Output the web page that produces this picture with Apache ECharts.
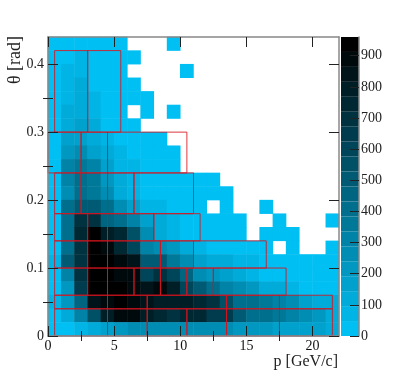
<!DOCTYPE html>
<html>
<head>
<meta charset="utf-8">
<style>html,body{margin:0;padding:0;background:#fff}#container{width:399px;height:377px}</style>
<script src="https://cdn.jsdelivr.net/npm/echarts@6/dist/echarts.min.js"></script>
</head>
<body>
<div id="container"></div>
<script>
var n = null;
var pBins = 22, thetaBins = 22;
var pMax = 22, thetaMax = 0.44, zMax = 960;
var levels = 20;
var pMajor = [0, 5, 10, 15, 20];
var pMinor = [2.5, 7.5, 12.5, 17.5];
var thetaMajor = [0, 0.1, 0.2, 0.3, 0.4];
var thetaMinor = [0.05, 0.15, 0.25, 0.35];
var zTicks = [0, 100, 200, 300, 400, 500, 600, 700, 800, 900];

// counts, top row (theta 0.42-0.44) first, null = empty bin
var counts = [
  [10,15,20,15,10,10,n,n,n,10,n,n,n,n,n,n,n,n,n,n,n,n],
  [10,30,50,20,10,10,10,n,n,n,n,n,n,n,n,n,n,n,n,n,n,n],
  [15,55,60,15,10,10,n,n,n,n,10,n,n,n,n,n,n,n,n,n,n,n],
  [15,60,100,30,10,10,10,n,n,n,n,n,n,n,n,n,n,n,n,n,n,n],
  [20,70,110,60,10,10,10,10,n,n,n,n,n,n,n,n,n,n,n,n,n,n],
  [20,100,130,60,15,10,n,10,n,10,n,n,n,n,n,n,n,n,n,n,n,n],
  [20,110,150,100,20,10,10,n,n,n,n,n,n,n,n,n,n,n,n,n,n,n],
  [15,150,170,100,60,20,15,10,10,n,n,n,n,n,n,n,n,n,n,n,n,n],
  [20,210,250,170,110,50,20,15,10,10,n,n,n,n,n,n,n,n,n,n,n,n],
  [20,290,350,300,180,70,55,20,10,10,n,n,n,n,n,n,n,n,n,n,n,n],
  [20,300,420,350,200,100,50,30,20,10,10,10,10,n,n,n,n,n,n,n,n,n],
  [25,280,420,380,260,140,90,30,20,20,10,10,10,10,n,n,n,n,n,n,n,n],
  [30,420,520,500,430,270,180,60,50,20,10,10,n,10,n,n,10,n,n,n,n,n],
  [25,420,680,700,450,400,300,180,120,60,30,20,10,10,10,n,n,10,n,n,n,10],
  [30,400,750,950,780,750,530,280,120,80,30,20,10,10,10,n,10,10,10,n,n,n],
  [30,420,700,950,900,740,620,300,240,220,100,70,30,20,15,10,10,n,10,n,n,10],
  [50,480,680,950,950,880,820,480,520,360,270,170,140,110,70,50,40,20,10,10,10,10],
  [40,320,680,930,950,900,880,620,700,620,450,250,200,180,120,60,40,30,20,10,10,10],
  [30,230,650,950,950,950,900,850,900,800,620,480,430,320,250,220,130,100,70,40,30,30],
  [60,200,450,850,880,950,880,850,800,800,800,760,680,550,420,400,380,300,250,180,130,120],
  [30,130,300,560,800,880,900,800,720,700,750,740,650,640,500,420,410,380,330,250,230,130],
  [15,25,50,100,170,230,260,270,270,270,270,270,270,270,230,200,200,190,170,170,170,100]
];

// red outlines: [theta low, theta high, p edges]
var boxLayers = [
  [0.30, 0.42, [0.5, 3, 5.5]],
  [0.24, 0.30, [0, 2.5, 4.5, 10.5]],
  [0.18, 0.24, [0.5, 2.5, 4.5, 6.5, 11]],
  [0.14, 0.18, [0.5, 3, 4.5, 8, 11.5]],
  [0.10, 0.14, [0.5, 3, 4.5, 8.5, 11, 16.5]],
  [0.06, 0.10, [0.5, 3, 4.5, 6.5, 8.5, 10.5, 12.5, 18]],
  [0.04, 0.06, [0.5, 4.5, 7.5, 13.5, 17.5, 21.5]],
  [0.00, 0.04, [0.5, 4.5, 7.5, 10.5, 13.5, 17.5, 21.5]]
];

var base = [0, 191, 243];
var step = zMax / levels;
function levelColor(k) {
  var f = 1 - k / (levels - 1);
  return 'rgb(' + base.map(function (c) { return Math.round(c * f); }).join(',') + ')';
}

var pieces = [], barData = [];
for (var k = 0; k < levels; k++) {
  pieces.push({ gte: k * step, lt: (k + 1) * step, color: levelColor(k) });
  barData.push([k * step, (k + 1) * step, k]);
}

var pCats = [], thetaCats = [];
for (var i = 0; i < pBins; i++) pCats.push(i);
for (var j = 0; j < thetaBins; j++) thetaCats.push(j);

var cells = [];
counts.forEach(function (row, r) {
  row.forEach(function (v, c) {
    if (v !== null) cells.push([c, thetaBins - 1 - r, v]);
  });
});

var boxes = [];
boxLayers.forEach(function (l) {
  for (var e = 0; e < l[2].length - 1; e++) boxes.push([l[2][e], l[2][e + 1], l[0], l[1]]);
});

var serif = '"Liberation Serif", "Times New Roman", serif';
var frame = { show: true, onZero: false, lineStyle: { color: '#888888', width: 1.5 } };
var plain = { show: false };
var gridBox = { left: 48, top: 37, width: 291, height: 299 };

function xAxis(gridIndex, pos, ticks, len, labels) {
  return {
    type: 'value', gridIndex: gridIndex, position: pos, min: 0, max: pMax, z: 5,
    axisLine: gridIndex === 1 ? frame : plain, splitLine: plain,
    axisTick: { show: true, inside: true, length: len, customValues: ticks, lineStyle: { color: '#222' } },
    axisLabel: labels ? { show: true, customValues: ticks, margin: 3, fontFamily: serif, fontSize: 14, color: '#111' } : plain
  };
}
function yAxis(gridIndex, pos, ticks, len, labels) {
  return {
    type: 'value', gridIndex: gridIndex, position: pos, min: 0, max: thetaMax, z: 5,
    axisLine: gridIndex === 1 ? frame : plain, splitLine: plain,
    axisTick: { show: true, inside: true, length: len, customValues: ticks, lineStyle: { color: '#222' } },
    axisLabel: labels ? {
      show: true, customValues: ticks, margin: 4, fontFamily: serif, fontSize: 14, color: '#222',
      formatter: function (v) { return v === 0 ? '0' : v.toFixed(1); }
    } : plain
  };
}

var option = {
  animation: false,
  backgroundColor: '#fff',
  grid: [
    Object.assign({}, gridBox),
    Object.assign({}, gridBox),
    Object.assign({}, gridBox),
    { left: 341, top: 37, width: 18, height: 299 }
  ],
  xAxis: [
    { type: 'category', gridIndex: 0, data: pCats, show: false },
    xAxis(1, 'bottom', pMajor, 10, true),
    xAxis(1, 'top', pMajor, 10, false),
    xAxis(2, 'bottom', pMinor, 5, false),
    xAxis(2, 'top', pMinor, 5, false),
    { type: 'value', gridIndex: 3, min: 0, max: 1, show: false }
  ],
  yAxis: [
    { type: 'category', gridIndex: 0, data: thetaCats, show: false },
    yAxis(1, 'left', thetaMajor, 10, true),
    yAxis(1, 'right', thetaMajor, 10, false),
    yAxis(2, 'left', thetaMinor, 5, false),
    yAxis(2, 'right', thetaMinor, 5, false),
    {
      type: 'value', gridIndex: 3, position: 'right', min: 0, max: zMax, z: 5,
      axisLine: frame, splitLine: plain,
      axisTick: { show: true, inside: true, length: 9, customValues: zTicks, lineStyle: { color: '#222' } },
      axisLabel: { show: true, customValues: zTicks, margin: 2, fontFamily: serif, fontSize: 14, color: '#222' }
    }
  ],
  visualMap: { type: 'piecewise', show: false, seriesIndex: 0, dimension: 2, pieces: pieces },
  series: [
    {
      type: 'heatmap', xAxisIndex: 0, yAxisIndex: 0, data: cells, z: 1,
      itemStyle: { borderWidth: 0 }, emphasis: { disabled: true }
    },
    {
      type: 'custom', xAxisIndex: 1, yAxisIndex: 1, data: boxes, z: 3, clip: false,
      renderItem: function (params, api) {
        var a = api.coord([api.value(0), api.value(3)]);
        var b = api.coord([api.value(1), api.value(2)]);
        return {
          type: 'rect',
          shape: { x: a[0], y: a[1], width: b[0] - a[0], height: b[1] - a[1] },
          style: { fill: 'none', stroke: '#d8141e', lineWidth: 1, opacity: 0.85 }
        };
      },
      encode: { x: [0, 1], y: [2, 3] }
    },
    {
      type: 'custom', xAxisIndex: 5, yAxisIndex: 5, data: barData, z: 1,
      renderItem: function (params, api) {
        var a = api.coord([0, api.value(1)]);
        var b = api.coord([1, api.value(0)]);
        return {
          type: 'rect',
          shape: { x: a[0], y: a[1], width: b[0] - a[0], height: b[1] - a[1] },
          style: { fill: levelColor(api.value(2)) }
        };
      },
      encode: { y: [0, 1] }
    }
  ],
  graphic: [
    {
      type: 'text', x: 15, y: 60, rotation: Math.PI / 2, originX: 0, originY: 0,
      style: { text: 'θ [rad]', fontFamily: serif, fontSize: 18, fill: '#222', align: 'center', verticalAlign: 'middle' }
    },
    {
      type: 'text', x: 338, y: 362,
      style: { text: 'p [GeV/c]', fontFamily: serif, fontSize: 16, fill: '#222', align: 'right', verticalAlign: 'middle' }
    }
  ]
};

var myChart = echarts.init(document.getElementById('container'), null, { renderer: 'canvas' });
myChart.setOption(option);
</script>
</body>
</html>
